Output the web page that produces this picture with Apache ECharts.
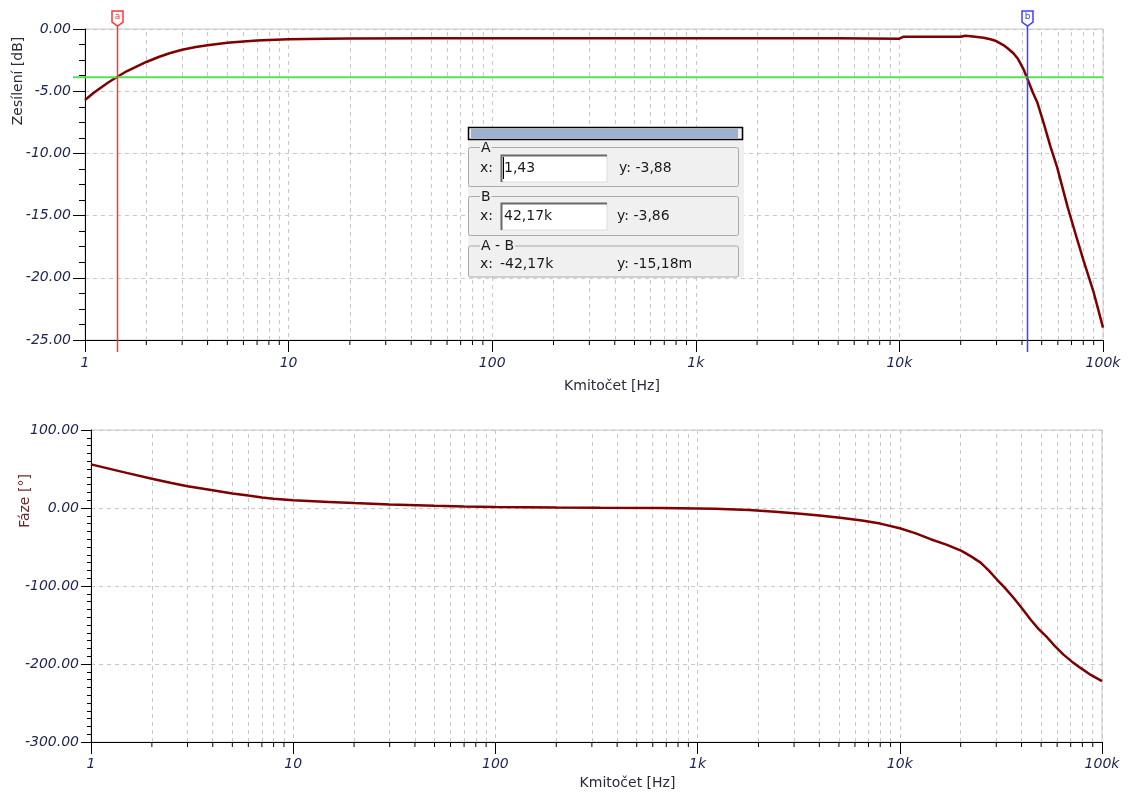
<!DOCTYPE html>
<html>
<head>
<meta charset="utf-8">
<script src="https://cdn.jsdelivr.net/npm/echarts@6/dist/echarts.min.js"></script>
<style>
  html, body { margin: 0; padding: 0; background: #fff; }
  #main { width: 1138px; height: 794px; }
</style>
</head>
<body>
<div id="main"></div>
<script>
// 增益曲线 (频率 Hz, dB)
var freqGain = [1, 1.1, 1.2, 1.3, 1.43, 1.6, 1.8, 2, 2.3, 2.6, 3, 3.5, 4, 5, 6, 7, 8, 10, 15, 20, 50, 100, 1000, 5000, 10000, 10500, 20000, 21100, 23000, 25900, 28000, 29600, 32400, 34000, 36300, 38000, 39300, 41000, 42170, 45500, 47700, 51000, 55200, 59500, 67000, 74600, 80200, 90100, 100000];
var gainDb = [-5.71, -5.15, -4.7, -4.3, -3.88, -3.4, -3.0, -2.65, -2.25, -1.95, -1.67, -1.45, -1.3, -1.1, -1.0, -0.93, -0.88, -0.83, -0.79, -0.77, -0.75, -0.75, -0.75, -0.75, -0.78, -0.62, -0.62, -0.54, -0.6, -0.7, -0.82, -0.94, -1.29, -1.55, -1.95, -2.35, -2.76, -3.35, -3.86, -5.2, -5.95, -7.5, -9.46, -11.1, -14.3, -16.9, -18.6, -21.2, -24.0];

// 相位曲线 (频率 Hz, 度)
var freqPhase = [1, 1.5, 2, 2.5, 3, 4, 5, 6, 7, 8, 10, 15, 20, 30, 50, 70, 100, 200, 330, 654, 1000, 1220, 1800, 2420, 3220, 4000, 5080, 6500, 8000, 10000, 12000, 14200, 17000, 20200, 22500, 25100, 27500, 30300, 33000, 36500, 40000, 44300, 48500, 53600, 58500, 64500, 71000, 78300, 88000, 100000];
var phaseDeg = [55.9, 45, 37.5, 32, 28, 22.8, 18.7, 15.9, 13.6, 11.9, 10.0, 7.8, 6.3, 4.5, 2.8, 2, 1.4, 0.7, 0.3, 0, -0.6, -1, -2.6, -4.7, -7.3, -9.5, -12.4, -16, -20, -26, -32.5, -40, -47, -55, -62, -70, -80, -92, -102, -115, -128, -143, -155, -166, -177, -188, -197, -205, -214, -222];

// 坐标轴刻度
var decadeLabels = ['1', '10', '100', '1k', '10k', '100k'];
var decades = [1, 10, 100, 1000, 10000];
var minorSteps = [2, 3, 4, 5, 6, 7, 8, 9];

// 光标
var cursorNames = ['a', 'b'];
var cursorX = [1.43, 42170];
var cursorY = [-3.88, -3.86];
var cursorColors = ['#ff3434', '#3f3fff'];

// 光标信息框文字
var boxTitles = ['A', 'B', 'A - B'];
var boxX = ['1,43', '42,17k', '-42,17k'];
var boxY = ['y: -3,88', 'y: -3,86', 'y: -15,18m'];

var minorFreqs = [];
decades.forEach(function (d) {
  minorSteps.forEach(function (m) { minorFreqs.push(m * d); });
});

var FONT = 'DejaVu Sans';
var labelColor = '#1c2452';

var myChart = echarts.init(document.getElementById('main'));

function xAxisCfg(gridIndex, margin, nameGap, namePad) {
  return {
    type: 'log',
    logBase: 10,
    gridIndex: gridIndex,
    min: 1,
    max: 100000,
    splitNumber: 5,
    name: 'Kmitočet [Hz]',
    nameLocation: 'middle',
    nameGap: nameGap,
    nameTextStyle: { fontFamily: FONT, fontSize: 14, color: '#2a2a3a', padding: [0, 0, 0, namePad] },
    axisLine: { show: true, onZero: false, lineStyle: { color: '#000', width: 1 } },
    axisTick: { show: true, length: 12, lineStyle: { color: '#000' } },
    axisLabel: {
      margin: margin,
      fontFamily: FONT,
      fontSize: 14,
      fontStyle: 'italic',
      color: labelColor,
      formatter: function (v) {
        var i = Math.round(Math.log10(v));
        return decadeLabels[i];
      }
    },
    splitLine: { show: true, lineStyle: { color: '#c8c8c8', type: [4, 4], width: 1 } }
  };
}

function yAxisCfg(gridIndex, min, max, interval, minorSplit, tickLen, minorLen, margin) {
  return {
    type: 'value',
    gridIndex: gridIndex,
    min: min,
    max: max,
    interval: interval,
    axisLine: { show: true, onZero: false, lineStyle: { color: '#000', width: 1 } },
    axisTick: { show: true, length: tickLen, lineStyle: { color: '#000' } },
    minorTick: { show: true, splitNumber: minorSplit, length: minorLen, lineStyle: { color: '#000' } },
    axisLabel: {
      margin: margin,
      fontFamily: FONT,
      fontSize: 14,
      fontStyle: 'italic',
      color: labelColor,
      formatter: function (v) { return v.toFixed(2); }
    },
    splitLine: { show: true, lineStyle: { color: '#c8c8c8', type: [4, 4], width: 1 } }
  };
}

function minorGridLines() {
  return {
    silent: true,
    symbol: 'none',
    z: 1,
    animation: false,
    label: { show: false },
    lineStyle: { color: '#c8c8c8', type: [4, 4], width: 1 },
    emphasis: { disabled: true },
    data: minorFreqs.map(function (f) { return { xAxis: f }; })
  };
}

var option = {
  animation: false,
  backgroundColor: '#fff',
  grid: [
    { left: 85, top: 29, width: 1018, height: 311, show: true, borderColor: '#c8c8c8', borderWidth: 1, backgroundColor: 'transparent' },
    { left: 91, top: 430, width: 1011, height: 312, show: true, borderColor: '#c8c8c8', borderWidth: 1, backgroundColor: 'transparent' }
  ],
  xAxis: [
    xAxisCfg(0, 16, 39, 36),
    xAxisCfg(1, 15, 34, 62)
  ],
  yAxis: [
    yAxisCfg(0, -25, 0, 5, 4, 12, 6, 14),
    yAxisCfg(1, -300, 100, 100, 10, 10, 4, 12)
  ],
  series: [
    {
      name: 'Zesílení',
      type: 'line',
      xAxisIndex: 0,
      yAxisIndex: 0,
      data: freqGain.map(function (f, i) { return [f, gainDb[i]]; }),
      showSymbol: false,
      lineStyle: { color: '#7f0000', width: 2.5 },
      markLine: minorGridLines()
    },
    {
      name: 'Fáze',
      type: 'line',
      xAxisIndex: 1,
      yAxisIndex: 1,
      data: freqPhase.map(function (f, i) { return [f, phaseDeg[i]]; }),
      showSymbol: false,
      lineStyle: { color: '#7f0000', width: 2.5 },
      markLine: minorGridLines()
    }
  ]
};

myChart.setOption(option);

/**
 * 坐标轴之外的元素：小刻度、光标、信息框
 */
function px(g, x, y) {
  return myChart.convertToPixel({ gridIndex: g }, [x, y]);
}

var graphics = [];

// x 轴小刻度
[[0, -25], [1, -300]].forEach(function (a) {
  minorFreqs.forEach(function (f) {
    var p = px(a[0], f, a[1]);
    graphics.push({
      type: 'line', silent: true,
      shape: { x1: p[0], y1: p[1], x2: p[0], y2: p[1] + 5 },
      style: { stroke: '#000', lineWidth: 1 }
    });
  });
});

// 绿色水平线
var gl = px(0, 1, cursorY[0]);
var gr = px(0, 100000, cursorY[0]);
graphics.push({
  type: 'line', silent: true, z: 10,
  shape: { x1: gl[0] - 12, y1: gl[1], x2: gr[0], y2: gr[1] },
  style: { stroke: '#55e055', lineWidth: 2 }
});

// 光标竖线与标志
cursorX.forEach(function (cx, i) {
  var top = px(0, cx, 0);
  var bot = px(0, cx, -25);
  var x = Math.round(top[0]) + 0.5;
  graphics.push({
    type: 'line', silent: true, z: 11,
    shape: { x1: x, y1: top[1] - 4, x2: x, y2: bot[1] + 12 },
    style: { stroke: cursorColors[i], lineWidth: 1.5 }
  });
  graphics.push({
    type: 'polygon', silent: true, z: 12,
    shape: { points: [[x - 5.5, 11], [x + 5.5, 11], [x + 5.5, 22], [x, 26], [x - 5.5, 22]] },
    style: { fill: '#fff', stroke: cursorColors[i], lineWidth: 1.5 }
  });
  graphics.push({
    type: 'text', silent: true, z: 13,
    style: { text: cursorNames[i], x: x, y: 17, align: 'center', verticalAlign: 'middle', font: '9px ' + FONT, fill: cursorColors[i] }
  });
});

// y 轴名称
graphics.push({
  type: 'text', silent: true, x: 18, y: 81, rotation: Math.PI / 2,
  style: { text: 'Zesílení [dB]', align: 'center', verticalAlign: 'middle', font: '14px ' + FONT, fill: '#2a2a3a' }
});
graphics.push({
  type: 'text', silent: true, x: 25, y: 501, rotation: Math.PI / 2,
  style: { text: 'Fáze [°]', align: 'center', verticalAlign: 'middle', font: '14px ' + FONT, fill: '#6a2a2a' }
});

// 信息框
var bx = 468, by = 127;
function add(el) { el.silent = true; el.z = 20; graphics.push(el); }
function txt(s, x, y, color) {
  add({ type: 'text', style: { text: s, x: bx + x, y: by + y, align: 'left', verticalAlign: 'middle', font: '14px ' + FONT, fill: color || '#1a1a1a' } });
}
add({ type: 'rect', shape: { x: bx, y: by, width: 276, height: 150 }, style: { fill: '#f0f0f0' } });
add({ type: 'rect', shape: { x: bx + 0.5, y: by + 0.5, width: 274, height: 12 }, style: { fill: 'none', stroke: '#000', lineWidth: 1.5 } });
add({ type: 'rect', shape: { x: bx + 3, y: by + 2, width: 267, height: 9 }, style: { fill: '#9ab2cf' } });

var groupTop = [20, 69, 118.5];
var groupH = [39, 39, 31];
var rowY = [41, 89, 137];
boxTitles.forEach(function (t, i) {
  add({ type: 'rect', shape: { x: bx + 0.5, y: by + groupTop[i] + 0.5, width: 270, height: groupH[i], r: 2 }, style: { fill: 'none', stroke: '#a8a8a8', lineWidth: 1 } });
  add({ type: 'text', style: { text: t, x: bx + 12, y: by + groupTop[i] + 1, align: 'left', verticalAlign: 'middle', font: '14px ' + FONT, fill: '#1a1a1a', backgroundColor: '#f0f0f0', padding: [0, 1, 0, 1] } });
  txt('x:', 12, rowY[i]);
  if (i < 2) {
    var iy = by + rowY[i] - 13;
    add({ type: 'rect', shape: { x: bx + 33, y: iy, width: 106, height: 27 }, style: { fill: '#fff', stroke: '#dcdcdc', lineWidth: 1 } });
    add({ type: 'polyline', shape: { points: [[bx + 33.5, iy + 27], [bx + 33.5, iy + 0.5], [bx + 139, iy + 0.5]] }, style: { fill: 'none', stroke: '#6a6a6a', lineWidth: 2 } });
    txt(boxX[i], 36, rowY[i]);
    txt(boxY[i], i === 0 ? 151 : 149, rowY[i]);
  } else {
    txt(boxX[i], 32, rowY[i]);
    txt(boxY[i], 149, rowY[i]);
  }
});
// 文本框光标
add({ type: 'line', shape: { x1: bx + 35.5, y1: by + 30, x2: bx + 35.5, y2: by + 52 }, style: { stroke: '#000', lineWidth: 1 } });

myChart.setOption({ graphic: graphics });
</script>
</body>
</html>
